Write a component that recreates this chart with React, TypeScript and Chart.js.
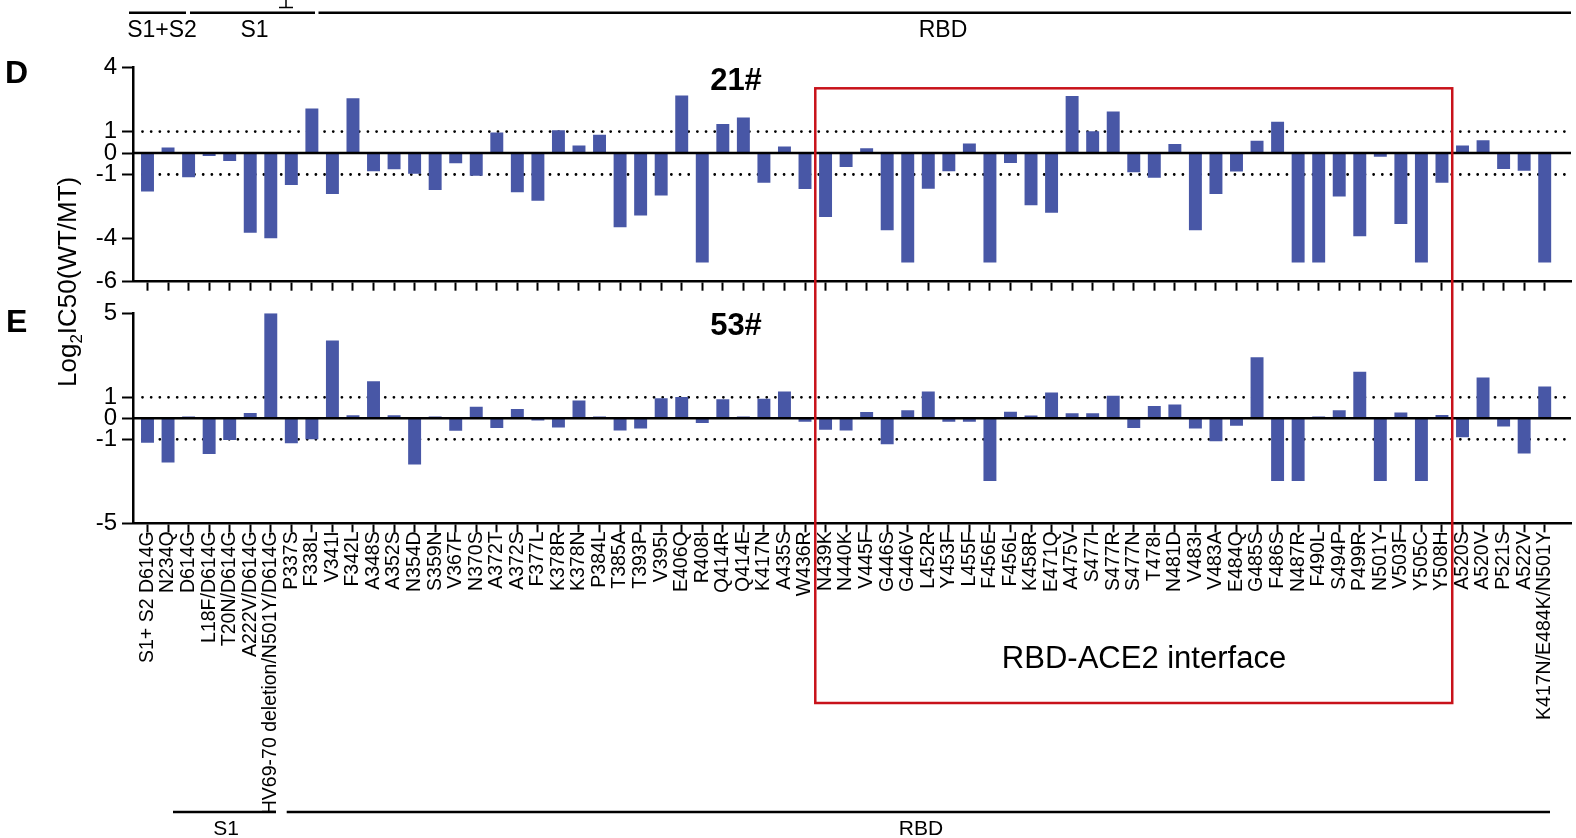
import React, { useEffect, useRef } from "react";
import { Chart, registerables } from "chart.js";

Chart.register(...registerables);

// ---------------- data ----------------
const categories = [
  "S1+ S2 D614G", "N234Q", "D614G", "L18F/D614G", "T20N/D614G", "A222V/D614G",
  "HV69-70 deletion/N501Y/D614G", "P337S", "F338L", "V341I", "F342L", "A348S",
  "A352S", "N354D", "S359N", "V367F", "N370S", "A372T", "A372S", "F377L", "K378R",
  "K378N", "P384L", "T385A", "T393P", "V395I", "E406Q", "R408I", "Q414R", "Q414E",
  "K417N", "A435S", "W436R", "N439K", "N440K", "V445F", "G446S", "G446V", "L452R",
  "Y453F", "L455F", "F456E", "F456L", "K458R", "E471Q", "A475V", "S477I", "S477R",
  "S477N", "T478I", "N481D", "V483I", "V483A", "E484Q", "G485S", "F486S", "N487R",
  "F490L", "S494P", "P499R", "N501Y", "V503F", "Y505C", "Y508H", "A520S", "A520V",
  "P521S", "A522V", "K417N/E484K/N501Y",
];

// Log2 IC50(WT/MT), antibody 21#
const ab21Values = [
  -1.79, 0.26, -1.13, -0.14, -0.37, -3.72, -3.97, -1.49, 2.08, -1.91,
  2.56, -0.85, -0.76, -0.96, -1.72, -0.48, -1.06, 0.96, -1.83, -2.22,
  1.06, 0.35, 0.85, -3.46, -2.91, -1.98, 2.69, -5.1, 1.35, 1.66,
  -1.38, 0.31, -1.68, -2.98, -0.65, 0.23, -3.6, -5.1, -1.66, -0.85,
  0.45, -5.1, -0.46, -2.43, -2.78, 2.66, 1.02, 1.94, -0.89, -1.15,
  0.42, -3.6, -1.91, -0.86, 0.57, 1.46, -5.1, -5.1, -2.03, -3.88,
  -0.17, -3.31, -5.1, -1.38, 0.35, 0.6, -0.74, -0.83, -5.1,
];

// Log2 IC50(WT/MT), antibody 53#
const ab53Values = [
  -1.16, -2.1, 0.09, -1.7, -1.03, 0.25, 5.0, -1.19, -1.0, 3.7,
  0.14, 1.76, 0.14, -2.2, 0.09, -0.59, 0.55, -0.46, 0.44, -0.11,
  -0.44, 0.85, 0.09, -0.58, -0.49, 0.96, 1.02, -0.22, 0.91, 0.08,
  0.93, 1.28, -0.16, -0.54, -0.58, 0.3, -1.23, 0.38, 1.28, -0.17,
  -0.17, -2.99, 0.31, 0.13, 1.23, 0.24, 0.24, 1.07, -0.46, 0.58,
  0.66, -0.49, -1.09, -0.36, 2.91, -2.99, -2.99, 0.08, 0.38, 2.22,
  -2.99, 0.28, -2.99, 0.16, -0.9, 1.94, -0.39, -1.68, 1.51,
];

const ab21Ticks = [4, 1, 0, -1, -4, -6];
const ab53Ticks = [5, 1, 0, -1, -5];
const thresholdLines = [1, -1];
// first and last mutation (1-based) inside the RBD-ACE2 interface box
const interfaceFirst = 34;
const interfaceLast = 64;

// ---------------- layout ----------------
const W = 1576;
const H = 838;
const AXIS_LEFT = 133;
const AXIS_RIGHT = 1571;
const X_MIN = 0.2943;
const X_MAX = 70.28;
const FONT = '"Liberation Sans", Arial, Helvetica, sans-serif';
const BAR_COLOR = "rgb(72, 87, 166)";
const RED = "rgb(200, 18, 26)";

const refLinePlugin = {
  id: "refLines",
  beforeDatasetsDraw(chart: any) {
    const { ctx, chartArea, scales } = chart;
    const y = scales.y;
    ctx.save();
    ctx.strokeStyle = "#000";
    ctx.lineWidth = 2.8;
    ctx.lineCap = "round";
    ctx.setLineDash([0, 8.67]);
    thresholdLines.forEach((v) => {
      const py = y.getPixelForValue(v);
      ctx.beginPath();
      ctx.moveTo(chartArea.left + 9.5, py);
      ctx.lineTo(chartArea.right, py);
      ctx.stroke();
    });
    ctx.restore();
  },
  afterDatasetsDraw(chart: any) {
    const { ctx, chartArea, scales } = chart;
    const py = scales.y.getPixelForValue(0);
    ctx.save();
    ctx.strokeStyle = "#000";
    ctx.lineWidth = 2.5;
    ctx.beginPath();
    ctx.moveTo(chartArea.left, py);
    ctx.lineTo(chartArea.right, py);
    ctx.stroke();
    ctx.restore();
  },
};

function hLine(ctx: CanvasRenderingContext2D, x1: number, x2: number, y: number, w = 2.4) {
  ctx.save();
  ctx.strokeStyle = "#000";
  ctx.lineWidth = w;
  ctx.beginPath();
  ctx.moveTo(x1, y);
  ctx.lineTo(x2, y);
  ctx.stroke();
  ctx.restore();
}

function text(ctx: CanvasRenderingContext2D, s: string, x: number, y: number, font: string, align: CanvasTextAlign = "center") {
  ctx.save();
  ctx.fillStyle = "#000";
  ctx.font = font;
  ctx.textAlign = align;
  ctx.textBaseline = "alphabetic";
  ctx.fillText(s, x, y);
  ctx.restore();
}

const annotationPlugin = {
  id: "annotations",
  afterDraw(chart: any) {
    const { ctx } = chart;
    const xs = chart.scales.x;

    // top region labels
    hLine(ctx, 129, 186, 12.7);
    hLine(ctx, 190, 315, 12.7);
    hLine(ctx, 318.5, 1571, 12.7);
    ctx.save();
    ctx.strokeStyle = "#000";
    ctx.lineWidth = 1.5;
    ctx.beginPath();
    ctx.moveTo(286, 0);
    ctx.lineTo(286, 7.5);
    ctx.moveTo(279, 7.5);
    ctx.lineTo(293, 7.5);
    ctx.stroke();
    ctx.restore();
    text(ctx, "S1+S2", 162, 37, `23px ${FONT}`);
    text(ctx, "S1", 254.5, 37, `23px ${FONT}`);
    text(ctx, "RBD", 943, 37, `23px ${FONT}`);

    // bottom region labels
    hLine(ctx, 173, 276, 812);
    hLine(ctx, 286.7, 1550, 812);
    text(ctx, "S1", 226, 835, `21px ${FONT}`);
    text(ctx, "RBD", 921, 835, `21px ${FONT}`);

    // panel letters and titles
    text(ctx, "D", 5, 83, `bold 32px ${FONT}`, "left");
    text(ctx, "E", 6, 332, `bold 32px ${FONT}`, "left");
    text(ctx, "21#", 736, 90, `bold 31px ${FONT}`);
    text(ctx, "53#", 736, 335, `bold 31px ${FONT}`);

    // y axis title with subscript
    ctx.save();
    ctx.translate(76, 387);
    ctx.rotate(-Math.PI / 2);
    ctx.fillStyle = "#000";
    ctx.textAlign = "left";
    ctx.textBaseline = "alphabetic";
    ctx.font = `26px ${FONT}`;
    ctx.fillText("Log", 0, 0);
    let wx = ctx.measureText("Log").width;
    ctx.font = `17px ${FONT}`;
    ctx.fillText("2", wx, 6);
    wx += ctx.measureText("2").width;
    ctx.font = `26px ${FONT}`;
    ctx.fillText("IC50(WT/MT)", wx, 0);
    ctx.restore();

    // RBD-ACE2 interface box
    const bx1 = xs.getPixelForValue(interfaceFirst - 0.5);
    const bx2 = xs.getPixelForValue(interfaceLast + 0.5);
    ctx.save();
    ctx.strokeStyle = RED;
    ctx.lineWidth = 2.5;
    ctx.strokeRect(bx1, 88.3, bx2 - bx1, 703 - 88.3);
    ctx.restore();
    text(ctx, "RBD-ACE2 interface", 1144, 668, `31px ${FONT}`);
  },
};

function buildOptions(
  yMin: number,
  yMax: number,
  yTicks: number[],
  padTop: number,
  padBottom: number,
  xHeight: number,
  showLabels: boolean
) {
  return {
    responsive: false,
    maintainAspectRatio: false,
    animation: false as const,
    devicePixelRatio: 1,
    events: [] as any[],
    layout: { padding: { top: padTop, bottom: padBottom, left: 0, right: W - AXIS_RIGHT } },
    plugins: {
      legend: { display: false },
      tooltip: { enabled: false },
      title: { display: false },
    },
    scales: {
      x: {
        type: "linear" as const,
        min: X_MIN,
        max: X_MAX,
        offset: false,
        afterBuildTicks: (s: any) => {
          s.ticks = categories.map((_, i) => ({ value: i + 1 }));
        },
        afterFit: (s: any) => {
          s.height = xHeight;
          s.paddingLeft = 0;
          s.paddingRight = 0;
        },
        grid: {
          display: true,
          offset: false,
          drawOnChartArea: false,
          drawTicks: true,
          tickLength: 9,
          tickWidth: 2,
          tickColor: "#000",
        },
        border: { display: true, color: "#000", width: 2.5 },
        ticks: {
          display: showLabels,
          autoSkip: false,
          maxRotation: 90,
          minRotation: 90,
          padding: -1,
          color: "#000",
          font: { family: FONT, size: 19.5 },
          callback: (v: any) => categories[Math.round(Number(v)) - 1] ?? "",
        },
      },
      y: {
        type: "linear" as const,
        min: yMin,
        max: yMax,
        afterBuildTicks: (s: any) => {
          s.ticks = yTicks.map((v) => ({ value: v }));
        },
        afterFit: (s: any) => {
          s.width = AXIS_LEFT;
          s.paddingTop = 0;
          s.paddingBottom = 0;
        },
        grid: {
          drawOnChartArea: false,
          drawTicks: true,
          tickLength: 11,
          tickWidth: 2,
          tickColor: "#000",
        },
        border: { display: true, color: "#000", width: 2.5 },
        ticks: {
          padding: 5,
          color: "#000",
          font: { family: FONT, size: 24 },
          callback: (v: any) => String(v),
        },
      },
    },
  };
}

function dataset(values: number[]) {
  return {
    data: values.map((v, i) => ({ x: i + 1, y: v })),
    backgroundColor: BAR_COLOR,
    borderWidth: 0,
    barPercentage: 0.63,
    categoryPercentage: 1,
  };
}

export default function App() {
  const topRef = useRef<HTMLCanvasElement | null>(null);
  const bottomRef = useRef<HTMLCanvasElement | null>(null);

  useEffect(() => {
    if (!topRef.current || !bottomRef.current) return;

    // panel E (53#): plot area 313.3 .. 523.3
    const chartE = new Chart(bottomRef.current, {
      type: "bar",
      data: { datasets: [dataset(ab53Values)] as any },
      options: buildOptions(-5, 5, ab53Ticks, 313.3, 0, H - 523.3, true) as any,
      plugins: [refLinePlugin],
    });

    // panel D (21#): plot area 67.3 .. 281.7, drawn on top with annotations
    const chartD = new Chart(topRef.current, {
      type: "bar",
      data: { datasets: [dataset(ab21Values)] as any },
      options: buildOptions(-6, 4, ab21Ticks, 67.3, H - 281.7 - 20, 20, false) as any,
      plugins: [refLinePlugin, annotationPlugin],
    });

    return () => {
      chartD.destroy();
      chartE.destroy();
    };
  }, []);

  const canvasStyle: React.CSSProperties = {
    position: "absolute",
    left: 0,
    top: 0,
    width: W,
    height: H,
  };

  return (
    <div
      style={{
        position: "fixed",
        left: 0,
        top: 0,
        width: W,
        height: H,
        background: "#fff",
        overflow: "hidden",
      }}
    >
      <canvas ref={bottomRef} width={W} height={H} style={canvasStyle} />
      <canvas ref={topRef} width={W} height={H} style={canvasStyle} />
    </div>
  );
}
